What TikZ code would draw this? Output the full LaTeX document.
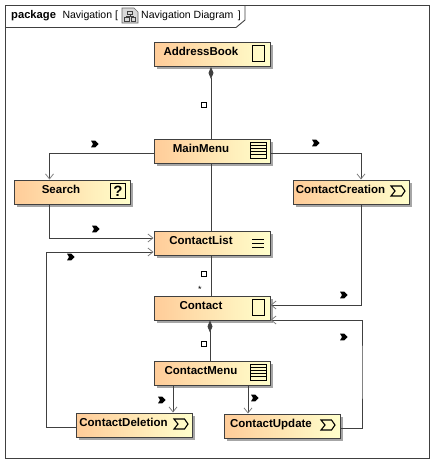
\documentclass[tikz,border=0pt]{standalone}
\usepackage{fontspec}
\setmainfont{Liberation Sans}
\usetikzlibrary{arrows.meta,shadows}
\definecolor{lineg}{HTML}{404040}
\definecolor{boxl}{HTML}{FFCC99}
\definecolor{boxr}{HTML}{FFFFCC}
\tikzset{
  st/.style={draw=lineg,line width=0.9pt,left color=boxl,right color=boxr,inner sep=0pt,
    text width=116pt,align=center,text height=13pt,text depth=11pt,font=\fontsize{11.5}{13}\selectfont\bfseries,
    execute at end node=\hspace*{22pt},
    drop shadow={shadow xshift=2.5pt,shadow yshift=-2.5pt,fill=black!35,opacity=1}},
  ln/.style={draw=lineg,line width=0.8pt},
  ed/.style={ln,-{Straight Barb[length=5pt,width=8pt,color=gray]}},
  cp/.style={ln,{Diamond[length=12pt,width=5pt,color=lineg]}-},
  own/.style={draw=black,fill=white,line width=0.9pt,minimum size=5.5pt,inner sep=0pt},
  ttl/.style={inner sep=0pt,anchor=base west,font=\fontsize{10.5}{12}\selectfont},
  tall/.style={draw=black,line width=0.9pt,minimum width=12pt,minimum height=16pt,inner sep=0pt},
  quest/.style={draw=black,line width=1pt,minimum size=15.5pt,inner sep=0pt,font=\fontsize{15}{15}\selectfont\bfseries},
  pics/dir/.style={code={\fill[black] (-4,-3.4) -- (0.2,-3.4) -- (3.6,0) -- (0.2,3.4) -- (-4,3.4) -- (-2,0) -- cycle;}},
  pics/proc/.style={code={\draw[black,line width=1.1pt] (-7,-5) -- (3.5,-5) -- (7,0) -- (3.5,5) -- (-7,5) -- (-3,0) -- cycle;}},
  pics/menuico/.style={code={\draw[black,line width=0.9pt] (-8,-8) rectangle (8,8);
    \foreach \yy in {-4.8,-1.6,1.6,4.8} \draw[black,line width=0.9pt] (-8,\yy) -- (8,\yy);}},
  pics/listico/.style={code={\foreach \yy in {-4,0,4} \draw[black,line width=0.9pt] (-6,\yy) -- (6,\yy);}},
  pics/diagico/.style={code={
    \draw[fill=black!15,draw=black!60,line width=0.7pt] (-8,-7.5) -- (4,-7.5) -- (8,-3.5) -- (8,7.5) -- (-8,7.5) -- cycle;
    \draw[black!75,line width=0.7pt] (-2.5,-4.5) rectangle (2.5,-1) (-5.5,2) rectangle (-1,6) (1,2) rectangle (5.5,6)
      (0,-1) -- (0,0.5) (-3.2,2) -- (-3.2,0.5) -- (3.2,0.5) -- (3.2,2);}},
}

\begin{document}
\begin{tikzpicture}[x=1pt,y=-1pt]
  \useasboundingbox (0,0) rectangle (438,467);
  \fill[white] (0,0) rectangle (438,467);

  % frame and title
  \node[draw=lineg,line width=0.9pt,minimum width=423.5pt,minimum height=453pt,inner sep=0pt] (frame) at (217.25,232) {};
  \draw[lineg,line width=0.9pt] (frame.west |- 0,27.5) -- (236,27.5) -- (245,20) -- (245,5.5);
  \node[ttl] (pkgname) at (11,18) {\textbf{\fontsize{11.2}{12}\selectfont package}\hspace{6.5pt}Navigation [};
  \pic at (130,15.5) {diagico};
  \node[ttl] (diagname) at (141,18) {Navigation Diagram\hspace{4.5pt}]};

  % boxes
  \node[st] (AddressBook) at (212,54.5) {AddressBook};
  \node[st] (MainMenu) at (212,151) {MainMenu};
  \node[st] (Search) at (72,192) {Search};
  \node[st] (ContactCreation) at (351.5,192) {ContactCreation};
  \node[st] (ContactList) at (212,243.5) {ContactList};
  \node[st] (Contact) at (212,308) {Contact};
  \node[st] (ContactMenu) at (212,373) {ContactMenu};
  \node[st] (ContactDeletion) at (134.5,425) {ContactDeletion};
  \node[st] (ContactUpdate) at (282,426) {ContactUpdate};

  % box icons
  \node[tall] (iconBook) at (258,53) {};
  \pic at (258,150) {menuico};
  \node[quest] (iconSearch) at (118,191) {?};
  \pic at (398,191) {proc};
  \pic at (258,243) {listico};
  \node[tall] (iconContact) at (258,307) {};
  \pic at (258,372) {menuico};
  \pic at (181,424) {proc};
  \pic at (328,425) {proc};

  \coordinate (cornerDel) at (46.5,340);
  \coordinate (cornerUpd) at (362,370);

  % connectors
  \draw[cp] ([xshift=-1pt]AddressBook.south) -- ([xshift=-1pt]MainMenu.north);
  \draw[ln] ([xshift=-1pt]MainMenu.south) -- ([xshift=-1pt]ContactList.north);
  \draw[ln] ([xshift=-1pt]ContactList.south) -- ([xshift=-1pt]Contact.north);
  \draw[cp] ([xshift=-2pt]Contact.south) -- ([xshift=-2pt]ContactMenu.north);
  \draw[ed] ([yshift=-2pt]MainMenu.west) -| ([xshift=-22.5pt]Search.north);
  \draw[ed] ([yshift=-2pt]MainMenu.east) -| ([xshift=9.5pt]ContactCreation.north);
  \draw[ed] ([xshift=-22.5pt]Search.south) |- ([yshift=5.5pt]ContactList.west);
  \draw[ed] ([xshift=9.5pt]ContactCreation.south) |- ([yshift=3pt]Contact.east);
  \draw[ed] ([yshift=-2pt]ContactDeletion.west) -| (cornerDel) |- ([yshift=-8.5pt]ContactList.west);
  \draw[ed] ([yshift=-2pt]ContactUpdate.east) -| (cornerUpd) |- ([yshift=-12pt]Contact.east);
  \draw[ed] ([xshift=-39pt]ContactMenu.south) -- ([xshift=38.5pt]ContactDeletion.north);
  \draw[ed] ([xshift=36pt]ContactMenu.south) -- ([xshift=-34pt]ContactUpdate.north);

  % connector marks
  \node[own] (ownBook) at (204,105) {};
  \node[own] (ownList) at (204,274) {};
  \node[own] (ownMenu) at (204,344) {};
  \node[inner sep=0pt,font=\fontsize{9}{9}\selectfont] (many) at (200,289.5) {*};
  \pic at (95,144) {dir};
  \pic at (96,229) {dir};
  \pic at (71,257) {dir};
  \pic at (316,143) {dir};
  \pic at (344,295) {dir};
  \pic at (344,337) {dir};
  \pic at (162,400) {dir};
  \pic at (255,398) {dir};
\end{tikzpicture}
\end{document}
